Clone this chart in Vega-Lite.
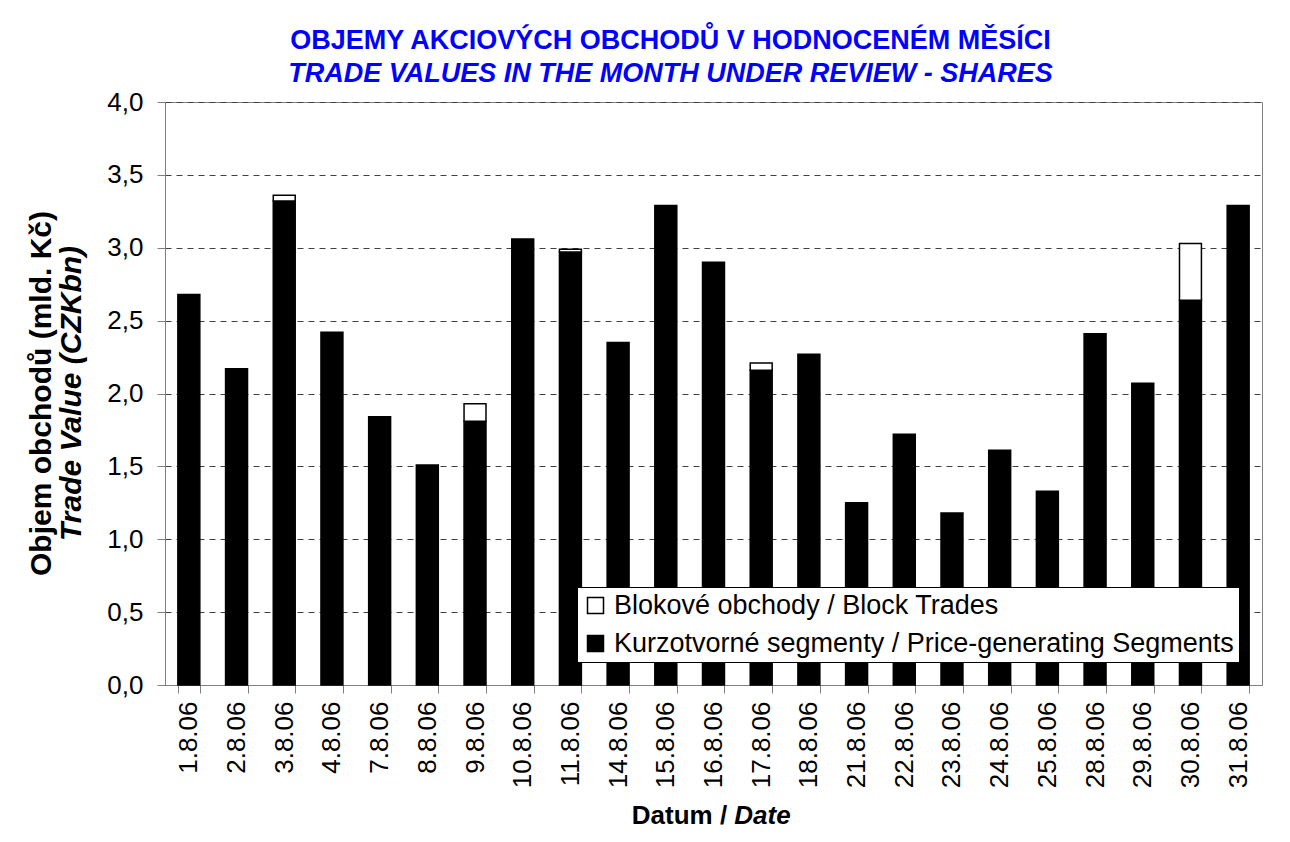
{
  "$schema": "https://vega.github.io/schema/vega-lite/v6.json",
  "autosize": {"type": "none"},
  "padding": {"left": 165, "top": 102, "right": 28, "bottom": 157},
  "width": 1097,
  "height": 583,
  "background": "white",
  "config": {
    "font": "Liberation Sans",
    "view": {"stroke": "#808080", "strokeWidth": 1}
  },
  "title": {
    "text": "OBJEMY AKCIOVÝCH OBCHODŮ V HODNOCENÉM MĚSÍCI",
    "subtitle": "TRADE VALUES IN THE MONTH UNDER REVIEW - SHARES",
    "anchor": "middle",
    "frame": "group",
    "dx": -43,
    "fontSize": 27,
    "fontWeight": "bold",
    "color": "#0000ff",
    "subtitleFontSize": 27,
    "subtitleFontWeight": "bold",
    "subtitleFontStyle": "italic",
    "subtitleColor": "#0000ff",
    "subtitlePadding": 6,
    "offset": 1
  },
  "data": {
    "values": [
      {"date": "1.8.06", "seg": "Kurzotvorné segmenty / Price-generating Segments", "value": 2.68},
      {"date": "2.8.06", "seg": "Kurzotvorné segmenty / Price-generating Segments", "value": 2.17},
      {"date": "3.8.06", "seg": "Kurzotvorné segmenty / Price-generating Segments", "value": 3.32},
      {"date": "4.8.06", "seg": "Kurzotvorné segmenty / Price-generating Segments", "value": 2.42},
      {"date": "7.8.06", "seg": "Kurzotvorné segmenty / Price-generating Segments", "value": 1.84},
      {"date": "8.8.06", "seg": "Kurzotvorné segmenty / Price-generating Segments", "value": 1.51},
      {"date": "9.8.06", "seg": "Kurzotvorné segmenty / Price-generating Segments", "value": 1.81},
      {"date": "10.8.06", "seg": "Kurzotvorné segmenty / Price-generating Segments", "value": 3.06},
      {"date": "11.8.06", "seg": "Kurzotvorné segmenty / Price-generating Segments", "value": 2.97},
      {"date": "14.8.06", "seg": "Kurzotvorné segmenty / Price-generating Segments", "value": 2.35},
      {"date": "15.8.06", "seg": "Kurzotvorné segmenty / Price-generating Segments", "value": 3.29},
      {"date": "16.8.06", "seg": "Kurzotvorné segmenty / Price-generating Segments", "value": 2.90},
      {"date": "17.8.06", "seg": "Kurzotvorné segmenty / Price-generating Segments", "value": 2.16},
      {"date": "18.8.06", "seg": "Kurzotvorné segmenty / Price-generating Segments", "value": 2.27},
      {"date": "21.8.06", "seg": "Kurzotvorné segmenty / Price-generating Segments", "value": 1.25},
      {"date": "22.8.06", "seg": "Kurzotvorné segmenty / Price-generating Segments", "value": 1.72},
      {"date": "23.8.06", "seg": "Kurzotvorné segmenty / Price-generating Segments", "value": 1.18},
      {"date": "24.8.06", "seg": "Kurzotvorné segmenty / Price-generating Segments", "value": 1.61},
      {"date": "25.8.06", "seg": "Kurzotvorné segmenty / Price-generating Segments", "value": 1.33},
      {"date": "28.8.06", "seg": "Kurzotvorné segmenty / Price-generating Segments", "value": 2.41},
      {"date": "29.8.06", "seg": "Kurzotvorné segmenty / Price-generating Segments", "value": 2.07},
      {"date": "30.8.06", "seg": "Kurzotvorné segmenty / Price-generating Segments", "value": 2.64},
      {"date": "31.8.06", "seg": "Kurzotvorné segmenty / Price-generating Segments", "value": 3.29},
      {"date": "3.8.06", "seg": "Blokové obchody / Block Trades", "value": 0.04},
      {"date": "9.8.06", "seg": "Blokové obchody / Block Trades", "value": 0.12},
      {"date": "11.8.06", "seg": "Blokové obchody / Block Trades", "value": 0.02},
      {"date": "17.8.06", "seg": "Blokové obchody / Block Trades", "value": 0.05},
      {"date": "30.8.06", "seg": "Blokové obchody / Block Trades", "value": 0.39}
    ]
  },
  "resolve": {"scale": {"x": "independent", "y": "independent"}, "axis": {"x": "independent", "y": "independent"}},
  "layer": [
    {
      "mark": {"type": "bar", "stroke": "black", "strokeWidth": 1.5},
      "encoding": {
        "x": {
          "field": "date", "type": "nominal", "sort": null,
          "scale": {"type": "band", "paddingInner": 0.54, "paddingOuter": 0.27},
          "axis": {
            "orient": "bottom",
            "labelAngle": -90,
            "labelFontSize": 26,
            "labelColor": "black",
            "labelPadding": 8,
            "labelAlign": "right",
            "labelBaseline": "middle",
            "tickBand": "extent",
            "tickSize": 8,
            "tickColor": "#808080",
            "domainColor": "#808080",
            "title": "Datum /",
            "titleFontSize": 26,
            "titleFontWeight": "bold",
            "titleColor": "black",
            "titleX": 514,
            "titleY": 130,
            "titleAlign": "center",
            "titleBaseline": "middle",
            "grid": false
          }
        },
        "y": {
          "field": "value", "type": "quantitative", "stack": "zero",
          "scale": {"domain": [0, 4], "nice": false},
          "axis": {
            "orient": "left",
            "values": [0, 0.5, 1, 1.5, 2, 2.5, 3, 3.5, 4],
            "labelExpr": "replace(format(datum.value, '.1f'), '.', ',')",
            "labelFontSize": 26,
            "labelColor": "black",
            "labelPadding": 14,
            "tickSize": 8,
            "tickColor": "#808080",
            "domainColor": "#808080",
            "grid": true,
            "gridColor": "#404040",
            "gridDash": [6, 5],
            "gridWidth": 1,
            "title": "Objem obchodů (mld. Kč)",
            "titleFontSize": 30,
            "titleFontWeight": "bold",
            "titleColor": "black",
            "titleX": -124,
            "titleY": 291,
            "titleAngle": -90,
            "titleAlign": "center",
            "titleBaseline": "middle"
          }
        },
        "color": {
          "field": "seg", "type": "nominal",
          "scale": {
            "domain": ["Blokové obchody / Block Trades", "Kurzotvorné segmenty / Price-generating Segments"],
            "range": ["white", "black"]
          },
          "legend": {
            "title": null,
            "orient": "bottom-right",
            "offset": 23,
            "fillColor": "white",
            "strokeColor": "black",
            "padding": 5,
            "rowPadding": 10,
            "symbolType": "square",
            "symbolSize": 256,
            "symbolStrokeColor": "black",
            "symbolStrokeWidth": 1.5,
            "labelFontSize": 27,
            "labelColor": "black",
            "labelOffset": 5,
            "labelLimit": 800
          }
        },
        "order": {"field": "seg", "sort": "descending"}
      }
    },
    {
      "mark": {"type": "bar", "opacity": 0},
      "encoding": {
        "x": {
          "field": "date", "type": "nominal", "sort": null,
          "scale": {"type": "band", "paddingInner": 0.54, "paddingOuter": 0.27},
          "axis": {
            "orient": "bottom",
            "labels": false, "ticks": false, "domain": false, "grid": false,
            "title": "Date",
            "titleFontSize": 26,
            "titleFontWeight": "bold",
            "titleFontStyle": "italic",
            "titleColor": "black",
            "titleX": 597,
            "titleY": 130,
            "titleAlign": "center",
            "titleBaseline": "middle"
          }
        },
        "y": {
          "field": "value", "type": "quantitative", "stack": "zero",
          "scale": {"domain": [0, 4], "nice": false},
          "axis": {
            "orient": "left",
            "labels": false, "ticks": false, "domain": false, "grid": false,
            "title": "Trade Value (CZKbn)",
            "titleFontSize": 30,
            "titleFontWeight": "bold",
            "titleFontStyle": "italic",
            "titleColor": "black",
            "titleX": -94,
            "titleY": 291,
            "titleAngle": -90,
            "titleAlign": "center",
            "titleBaseline": "middle"
          }
        }
      }
    }
  ]
}
